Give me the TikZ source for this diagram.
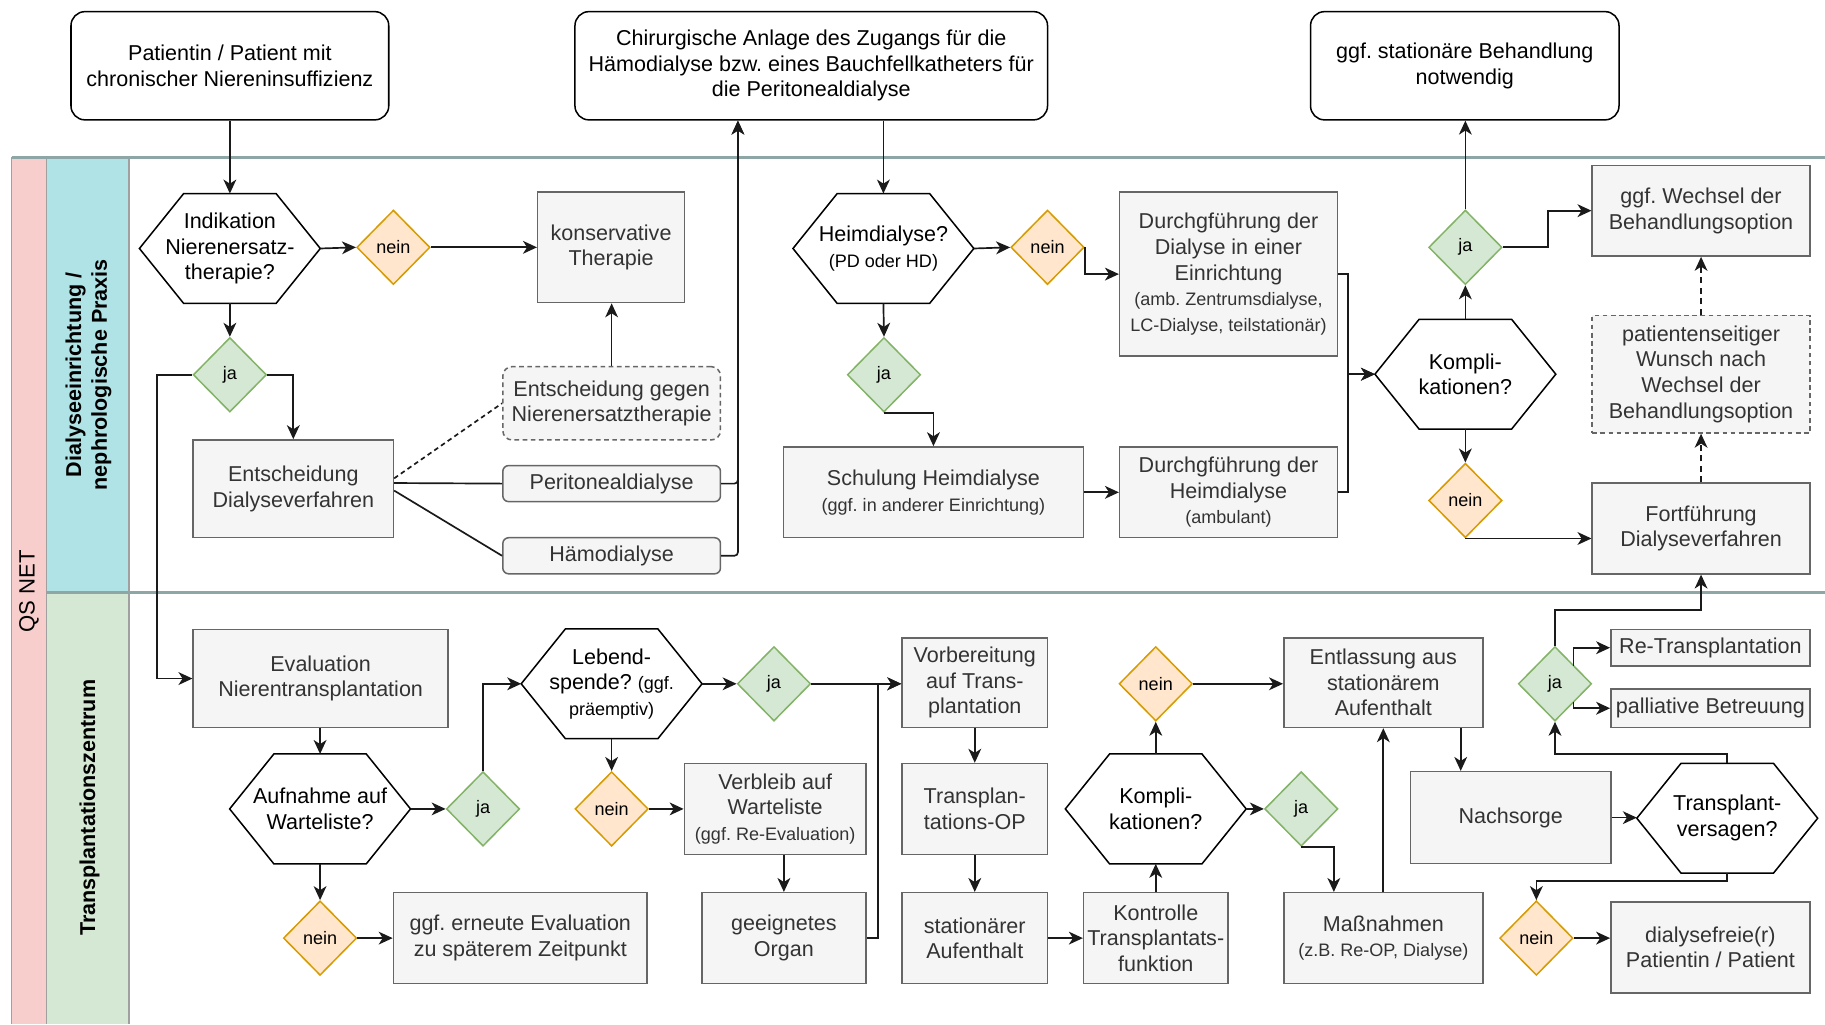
\documentclass[tikz,border=0pt]{standalone}
\usepackage{fontspec}
\setmainfont{Liberation Sans}
\usetikzlibrary{shapes.geometric,arrows.meta,calc}
\definecolor{gfill}{HTML}{F5F5F5}
\definecolor{gdraw}{HTML}{666666}
\definecolor{gtext}{HTML}{333333}
\definecolor{jafill}{HTML}{D5E8D4}
\definecolor{jadraw}{HTML}{82B366}
\definecolor{neinfill}{HTML}{FFE6CC}
\definecolor{neindraw}{HTML}{D79B00}
\definecolor{poolred}{HTML}{F8CECC}
\definecolor{poolblue}{HTML}{B0E3E6}
\definecolor{poolgreen}{HTML}{D5E8D4}
\definecolor{poolline}{HTML}{8FA6A6}
\definecolor{poolborder}{HTML}{A0A0A0}
\definecolor{edgec}{HTML}{1A1A1A}
\newcommand\smf{\fontsize{15.5}{20}\selectfont}
\frenchspacing
\begin{document}
\begin{tikzpicture}[x=1pt,y=-1pt,
  every node/.style={font=\fontsize{18.5}{22}\selectfont\frenchspacing, align=center, inner sep=0pt},
  topbox/.style={draw=black, fill=white, rounded corners=12pt, line width=1.3pt},
  gbox/.style={draw=gdraw, fill=gfill, text=gtext, line width=1.3pt},
  dbox/.style={gbox, dash pattern=on 4pt off 3pt},
  hexa/.style={minimum width=155pt, minimum height=94pt},
  hexline/.style={draw=black, line width=1.3pt},
  jad/.style={diamond, draw=jadraw, fill=jafill, line width=1.3pt, minimum width=63pt, minimum height=64pt, font=\smf},
  neind/.style={diamond, draw=neindraw, fill=neinfill, line width=1.3pt, minimum width=63pt, minimum height=64pt, font=\smf},
  conn/.style={draw=edgec, line width=1.45pt},
  arr/.style={conn, -{Stealth[length=12pt,width=11pt,inset=3.5pt]}},
  darr/.style={arr, dash pattern=on 5pt off 4pt},
  lanelbl/.style={rotate=90, font=\bfseries\fontsize{18.5}{22}\selectfont}
]
\useasboundingbox (0,0) rectangle (1568,880);
% pool
\fill[poolred] (10,135) rectangle (40,880);
\fill[poolblue] (40,135) rectangle (111,509);
\fill[poolgreen] (40,509) rectangle (111,880);
\draw[poolborder, line width=1.2pt] (10,880) -- (10,135);
\draw[poolborder, line width=1.2pt] (40,880) -- (40,135);
\draw[poolborder, line width=1.2pt] (111,880) -- (111,135);
\draw[poolline, line width=2.5pt] (10,135) -- (1568,135);
\draw[poolline, line width=2.5pt] (40,509) -- (1568,509);
\node[rotate=90, font=\fontsize{19}{22}\selectfont] (qs) at (25,508) {QS NET};
\node[lanelbl] (lane1) at (76,322) {Dialyseeinrichtung /\\nephrologische Praxis};
\node[lanelbl] (lane2) at (77,694) {Transplantationszentrum};

% top row
\node[topbox, minimum width=273pt, minimum height=93pt] (top1) at (197.5,56.5) {Patientin / Patient mit\\chronischer Niereninsuffizienz};
\node[topbox, minimum width=406pt, minimum height=93pt] (top2) at (697,56.5) {Chirurgische Anlage des Zugangs für die\\Hämodialyse bzw. eines Bauchfellkatheters für\\die Peritonealdialyse};
\node[topbox, minimum width=265pt, minimum height=93pt] (top3) at (1258.5,56.5) {ggf. stationäre Behandlung\\notwendig};

% dialysis lane
\node[hexa] (hIndik) at (197.5,213.5) {Indikation\\Nierenersatz-\\therapie?};
\node[neind] (n1) at (338,212.5) {nein};
\node[gbox, minimum width=126pt, minimum height=95pt] (konserv) at (525,212.5) {konservative\\Therapie};
\node[jad] (j1) at (197.5,322) {ja};
\node[gbox, minimum width=172pt, minimum height=84pt] (entschDV) at (252,420) {Entscheidung\\Dialyseverfahren};
\node[dbox, rounded corners=8pt, minimum width=187pt, minimum height=63pt] (gegen) at (525.5,346.5) {Entscheidung gegen\\Nierenersatztherapie};
\node[gbox, rounded corners=5pt, minimum width=187pt, minimum height=31pt] (perit) at (525.5,415.5) {Peritonealdialyse};
\node[gbox, rounded corners=5pt, minimum width=187pt, minimum height=31pt] (haemo) at (525.5,477.5) {Hämodialyse};
\node[hexa] (hHeim) at (759,213.5) {Heimdialyse?\\{\smf (PD oder HD)}};
\node[neind] (n2) at (900,212.5) {nein};
\node[gbox, minimum width=187pt, minimum height=141pt] (durchEin) at (1055.5,235.5) {Durchgführung der\\Dialyse in einer\\Einrichtung\\{\smf (amb. Zentrumsdialyse,}\\{\smf LC-Dialyse, teilstationär)}};
\node[jad] (j2) at (759.5,322) {ja};
\node[gbox, minimum width=258pt, minimum height=78pt] (schul) at (802,423) {Schulung Heimdialyse\\{\smf (ggf. in anderer Einrichtung)}};
\node[gbox, minimum width=187pt, minimum height=78pt] (durchHeim) at (1055.5,423) {Durchgführung der\\Heimdialyse\\{\smf (ambulant)}};
\node[hexa] (hKompA) at (1259,321.5) {Kompli-\\kationen?};
\node[jad] (j3) at (1259,212.5) {ja};
\node[neind] (n3) at (1259,430) {nein};
\node[gbox, minimum width=187pt, minimum height=78pt] (wechsel) at (1461.5,181) {ggf. Wechsel der\\Behandlungsoption};
\node[dbox, minimum width=187pt, minimum height=101pt] (wunsch) at (1461.5,321.5) {patientenseitiger\\Wunsch nach\\Wechsel der\\Behandlungsoption};
\node[gbox, minimum width=187pt, minimum height=78pt] (fort) at (1461.5,454) {Fortführung\\Dialyseverfahren};

% transplant lane
\node[gbox, minimum width=219pt, minimum height=84pt] (evalNT) at (275.5,583) {Evaluation\\Nierentransplantation};
\node[hexa] (hAuf) at (275,695) {Aufnahme auf\\Warteliste?};
\node[jad] (j4) at (415,695) {ja};
\node[neind] (n4) at (275,806) {nein};
\node[gbox, minimum width=218pt, minimum height=78pt] (erneut) at (447,806) {ggf. erneute Evaluation\\zu späterem Zeitpunkt};
\node[hexa] (hLeb) at (525.5,587.5) {Lebend-\\spende? {\smf (ggf.}\\{\smf präemptiv)}};
\node[jad] (j5) at (665,587.5) {ja};
\node[neind] (n5) at (525.5,695) {nein};
\node[gbox, minimum width=156pt, minimum height=78pt] (verbl) at (666,695) {Verbleib auf\\Warteliste\\{\smf (ggf. Re-Evaluation)}};
\node[gbox, minimum width=141pt, minimum height=78pt] (organ) at (673.5,806) {geeignetes\\Organ};
\node[gbox, minimum width=125pt, minimum height=77pt] (vorb) at (837.5,586.5) {Vorbereitung\\auf Trans-\\plantation};
\node[gbox, minimum width=125pt, minimum height=78pt] (op) at (837.5,695) {Transplan-\\tations-OP};
\node[gbox, minimum width=125pt, minimum height=78pt] (stat) at (837.5,806) {stationärer\\Aufenthalt};
\node[gbox, minimum width=124pt, minimum height=78pt] (kontr) at (993,806) {Kontrolle\\Transplantats-\\funktion};
\node[hexa] (hKompB) at (993,695) {Kompli-\\kationen?};
\node[neind] (n6) at (993,587.5) {nein};
\node[jad] (j6) at (1118,695) {ja};
\node[gbox, minimum width=171pt, minimum height=77pt] (entl) at (1188.5,586.5) {Entlassung aus\\stationärem\\Aufenthalt};
\node[gbox, minimum width=171pt, minimum height=78pt] (massn) at (1188.5,806) {Maßnahmen\\{\smf (z.B. Re-OP, Dialyse)}};
\node[gbox, minimum width=172pt, minimum height=79pt] (nach) at (1298,702.5) {Nachsorge};
\node[hexa] (hTV) at (1484,703) {Transplant-\\versagen?};
\node[jad] (j7) at (1336,587.5) {ja};
\node[gbox, minimum width=171pt, minimum height=31pt] (retrans) at (1469.5,556.5) {Re-Transplantation};
\node[gbox, minimum width=171pt, minimum height=33pt] (palli) at (1469.5,608.5) {palliative Betreuung};
\node[neind] (n7) at (1320,806) {nein};
\node[gbox, minimum width=171pt, minimum height=78pt] (dfree) at (1469.5,814) {dialysefreie(r)\\Patientin / Patient};

% hexagon outlines
\foreach \h in {hIndik,hHeim,hKompA,hAuf,hLeb,hKompB,hTV}{
  \draw[hexline] (\h.west) -- ([xshift=38pt]\h.north west) -- ([xshift=-38pt]\h.north east) -- (\h.east) -- ([xshift=-38pt]\h.south east) -- ([xshift=38pt]\h.south west) -- cycle;}

% connectors dialysis lane
\draw[arr] (top1.south) -- (hIndik.north);
\draw[arr] (hIndik.east) -- (n1.west);
\draw[arr] (n1.east) -- (konserv.west);
\draw[arr] (hIndik.south) -- (j1.north);
\draw[arr] (j1.east) -| (entschDV.north);
\draw[arr] (j1.west) -- (135,322) |- (evalNT.west);
\draw[conn, dash pattern=on 4pt off 3pt] ($(entschDV.east)+(0,-9)$) -- (gegen.west);
\draw[conn] ($(entschDV.east)+(0,-5)$) -- (perit.west);
\draw[conn] ($(entschDV.east)+(0,1.5)$) -- (haemo.west);
\draw[arr, rounded corners=3pt] (perit.east) -- (perit.east -| 634,0) -- (634,0 |- top2.south);
\draw[arr, rounded corners=3pt] (haemo.east) -- (haemo.east -| 634,0) -- (634,0 |- top2.south);
\draw[arr] (gegen.north) -- (gegen.north |- konserv.south);
\draw[arr] (hHeim.north |- top2.south) -- (hHeim.north);
\draw[arr] (hHeim.east) -- (n2.west);
\draw[arr] (n2.east) |- (durchEin.west);
\draw[arr] (hHeim.south) -- (j2.north);
\draw[arr] (j2.south) -| (schul.north);
\draw[arr] (schul.east) -- (durchHeim.west);
\draw[arr] (durchEin.east) -- ++(8.5,0) |- (hKompA.west);
\draw[arr] (durchHeim.east) -- ++(8.5,0) |- (hKompA.west);
\draw[arr] (hKompA.north) -- (j3.south);
\draw[arr] (j3.north) -- (j3.north |- top3.south);
\draw[arr] (j3.east) -- ++(39,0) |- (wechsel.west);
\draw[arr] (hKompA.south) -- (n3.north);
\draw[arr] (n3.south) -- (n3.south -| fort.west);
\draw[darr] (wunsch.north) -- (wechsel.south);
\draw[darr] (fort.north) -- (wunsch.south);

% connectors transplant lane
\draw[arr] (hAuf.north |- evalNT.south) -- (hAuf.north);
\draw[arr] (hAuf.east) -- (j4.west);
\draw[arr] (j4.north) |- (hLeb.west);
\draw[arr] (hAuf.south) -- (n4.north);
\draw[arr] (n4.east) -- (erneut.west);
\draw[arr] (hLeb.east) -- (j5.west);
\draw[arr] (j5.east) -- (j5.east -| vorb.west);
\draw[arr] (hLeb.south) -- (n5.north);
\draw[arr] (n5.east) -- (verbl.west);
\draw[arr] (organ.north |- verbl.south) -- (organ.north);
\draw[arr] (organ.east) -- ++(9.5,0) |- (vorb.west |- j5.east);
\draw[arr] (vorb.south) -- (op.north);
\draw[arr] (op.south) -- (stat.north);
\draw[arr] (stat.east) -- (kontr.west);
\draw[arr] (kontr.north) -- (hKompB.south);
\draw[arr] (hKompB.north) -- (n6.south);
\draw[arr] (n6.east) -- (n6.east -| entl.west);
\draw[arr] (hKompB.east) -- (j6.west);
\draw[arr] (j6.south) -| (1146,0 |- massn.north);
\draw[arr] (massn.north) -- (entl.south);
\draw[arr] (1255,0 |- entl.south) -- (1255,0 |- nach.north);
\draw[arr] (nach.east) -- (nach.east -| hTV.west);
\draw[arr] (hTV.north) -- ++(0,-8) -| (j7.south);
\draw[arr] (j7.north) -- ++(0,-31) -| (fort.south);
\draw[arr] ($(j7.center)+(16,-15.7)$) |- (retrans.west);
\draw[arr] ($(j7.center)+(16,15.7)$) |- (palli.west);
\draw[arr] (hTV.south) -- ++(0,7) -| (n7.north);
\draw[arr] (n7.east) -- (n7.east -| dfree.west);
\end{tikzpicture}
\end{document}
